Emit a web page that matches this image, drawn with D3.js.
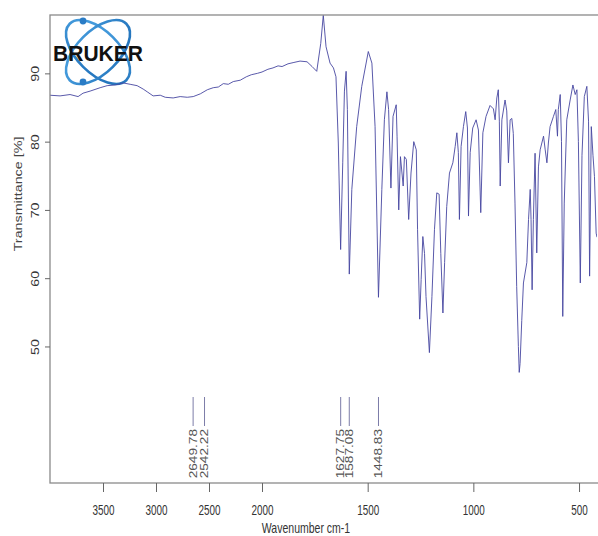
<!DOCTYPE html>
<html>
<head>
<meta charset="utf-8">
<script src="https://cdn.jsdelivr.net/npm/d3@7"></script>
<style>
  body { margin: 0; background: #fff; }
  text { font-family: "Liberation Sans", Arial, sans-serif; }
</style>
</head>
<body>
<div id="chart"></div>
<script>
// spectrum: wavenumber (cm-1) and transmittance (%)
var wavenumbers = [
  4000, 3905, 3811, 3735, 3688, 3622, 3527, 3461, 3386, 3310, 3244, 3178, 3121, 3083, 3027,
  2960, 2913, 2838, 2772, 2705, 2649, 2582, 2516, 2460, 2412, 2365, 2318, 2271, 2205, 2148,
  2101, 2044, 2000, 1972, 1948, 1924, 1905, 1877, 1849, 1820, 1787, 1763, 1741, 1722, 1710,
  1697, 1678, 1662, 1650, 1639, 1628, 1618, 1610, 1602, 1596, 1587, 1575, 1552, 1528, 1497,
  1480, 1465, 1449, 1433, 1421, 1409, 1401, 1390, 1380, 1365, 1361, 1353, 1345, 1332, 1326,
  1317, 1306, 1295, 1282, 1270, 1264, 1254, 1247, 1239, 1231, 1224, 1208, 1196, 1184, 1173,
  1162, 1154, 1144, 1136, 1126, 1113, 1097, 1086, 1078, 1071, 1066, 1058, 1047, 1036, 1028,
  1023, 1015, 1003, 987, 976, 965, 955, 940, 921, 905, 897, 889, 882, 877, 873,
  865, 850, 842, 834, 826, 818, 811, 803, 795, 787, 783, 779, 771, 763, 747,
  739, 731, 727, 722, 716, 708, 700, 692, 684, 668, 660, 652, 645, 637, 621,
  610, 602, 598, 589, 583, 577, 570, 558, 542, 529, 518, 510, 503, 494, 486,
  475, 463, 455, 450, 442, 434, 427, 419, 415
];
var transmittance = [
  86.8, 86.7, 86.9, 86.6, 87.1, 87.4, 87.9, 88.2, 88.3, 88.6, 88.4, 88.2, 87.7, 87.3, 86.7,
  86.8, 86.5, 86.4, 86.6, 86.5, 86.6, 87.0, 87.6, 87.9, 88.0, 88.5, 88.4, 88.8, 89.0, 89.5,
  89.8, 90.0, 90.2, 90.6, 90.8, 91.1, 91.0, 91.4, 91.6, 91.8, 91.7, 91.0, 90.3, 94.4, 98.5,
  93.9, 91.5, 90.8, 89.5, 79.8, 64.2, 76.9, 87.4, 90.3, 84.7, 60.6, 73.0, 82.2, 88.1, 93.2,
  91.5, 82.2, 57.2, 73.0, 83.2, 87.3, 84.7, 73.2, 83.7, 85.4, 80.8, 70.0, 77.8, 73.5, 77.8,
  77.4, 68.6, 75.4, 80.0, 78.8, 67.1, 54.0, 59.8, 66.1, 63.6, 57.3, 49.1, 57.3, 67.1, 72.5,
  72.3, 63.6, 54.9, 62.3, 70.5, 75.4, 76.9, 79.3, 81.3, 78.4, 68.6, 79.3, 82.2, 84.4, 82.0,
  69.1, 78.4, 82.0, 83.2, 81.7, 69.6, 81.3, 83.7, 85.3, 84.8, 83.2, 86.4, 87.6, 83.0, 73.5,
  83.2, 86.1, 84.5, 76.9, 83.2, 83.4, 81.2, 71.0, 58.8, 50.0, 46.2, 47.5, 53.8, 59.3, 62.3,
  68.6, 73.0, 68.6, 58.3, 68.6, 78.3, 63.7, 76.3, 78.8, 80.8, 78.8, 76.9, 79.8, 82.2, 83.7,
  84.7, 80.8, 84.7, 86.9, 80.0, 54.4, 71.0, 83.2, 86.1, 88.3, 86.9, 87.6, 80.0, 59.3, 78.0,
  86.6, 88.1, 83.0, 60.3, 82.2, 78.0, 74.9, 66.6, 66.0
];

var peakPositions = [2649.78, 2542.22, 1627.75, 1587.08, 1448.83];
var peakLabels = ["2649.78", "2542.22", "1627.75", "1587.08", "1448.83"];

var xTicks = [3500, 3000, 2500, 2000, 1500, 1000, 500];
var yTicks = [50, 60, 70, 80, 90];

var width = 598, height = 536;
var box = {left: 50, top: 15, right: 597, bottom: 483};

// the picture is stretched vertically, so horizontal text is squeezed
// and rotated text is drawn longer than normal
function squeeze(sel, f){
    sel.each(function(){
        var len = this.getComputedTextLength();
        d3.select(this).attr("textLength", len * f).attr("lengthAdjust", "spacingAndGlyphs");
    });
}

var svg = d3.select("#chart").append("svg")
    .attr("width", width)
    .attr("height", height);

// OPUS style: region above 2000 is compressed by half
var x = d3.scaleLinear()
    .domain([4000, 2000, 415])
    .range([box.left, 262, box.right]);
var y = d3.scaleLinear()
    .domain([30, 98.55])
    .range([box.bottom, box.top]);

var defs = svg.append("defs");
defs.append("clipPath").attr("id", "plotclip")
  .append("rect")
    .attr("x", box.left).attr("y", box.top - 1)
    .attr("width", box.right - box.left).attr("height", box.bottom - box.top + 1);

// logo
var logo = svg.append("g").attr("transform", "translate(98,52)");
var grad = defs.append("linearGradient")
    .attr("id", "orbit").attr("x1", "0").attr("y1", "0").attr("x2", "1").attr("y2", "1");
grad.append("stop").attr("offset", "0%").attr("stop-color", "#4aa2e2");
grad.append("stop").attr("offset", "100%").attr("stop-color", "#1f6fb8");
[45, -45].forEach(function(a){
    logo.append("ellipse")
        .attr("rx", 40).attr("ry", 21)
        .attr("transform", "rotate(" + a + ")")
        .attr("fill", "none")
        .attr("stroke", "url(#orbit)")
        .attr("stroke-width", 2.6);
});
[[-15, -31], [-15, 30]].forEach(function(p){
    logo.append("circle").attr("cx", p[0]).attr("cy", p[1]).attr("r", 3.4).attr("fill", "#2a7cc6");
});
logo.append("text")
    .attr("x", -45).attr("y", 9)
    .attr("textLength", 90)
    .attr("lengthAdjust", "spacingAndGlyphs")
    .style("font-size", "22px")
    .style("font-weight", "bold")
    .style("fill", "#111")
    .text("BRUKER");

// spectrum
var line = d3.line()
    .x(function(d, i){ return x(wavenumbers[i]); })
    .y(function(d){ return y(d); });

svg.append("path")
    .datum(transmittance)
    .attr("clip-path", "url(#plotclip)")
    .attr("d", line)
    .attr("fill", "none")
    .attr("stroke", "#4646a0")
    .attr("stroke-width", 0.9);

// frame
svg.append("rect")
    .attr("x", box.left).attr("y", box.top)
    .attr("width", box.right - box.left + 5).attr("height", box.bottom - box.top)
    .attr("fill", "none")
    .attr("stroke", "#8a8a8a")
    .attr("stroke-width", 1.3);

// x axis
var xAxis = svg.append("g")
    .attr("transform", "translate(0," + box.bottom + ")")
    .call(d3.axisBottom(x).tickValues(xTicks).tickSize(9).tickPadding(8).tickFormat(d3.format("d")));
xAxis.select(".domain").remove();
xAxis.selectAll("line").attr("stroke", "#666");
xAxis.selectAll("text")
    .attr("dy", null).attr("y", 32)
    .style("font-size", "15px").style("fill", "#333")
    .style("font-family", "Liberation Sans, Arial, sans-serif")
    .call(squeeze, 0.66);

// y axis
var yAxis = svg.append("g")
    .attr("transform", "translate(" + box.left + ",0)")
    .call(d3.axisLeft(y).tickValues(yTicks).tickSize(5).tickFormat(d3.format("d")));
yAxis.select(".domain").remove();
yAxis.selectAll("line").attr("stroke", "#666");
yAxis.selectAll("text")
    .attr("x", null).attr("dy", "0")
    .attr("text-anchor", "middle")
    .attr("transform", "translate(-11,0) rotate(-90)")
    .style("font-size", "11px").style("fill", "#333")
    .style("font-family", "Liberation Sans, Arial, sans-serif")
    .call(squeeze, 1.3);

svg.append("text")
    .attr("transform", "translate(22,194) rotate(-90)")
    .attr("text-anchor", "middle")
    .style("font-size", "11px")
    .style("fill", "#444")
    .text("Transmittance [%]")
    .call(squeeze, 1.3);

svg.append("text")
    .attr("x", 306)
    .attr("y", 533)
    .attr("text-anchor", "middle")
    .style("font-size", "15px")
    .style("fill", "#333")
    .text("Wavenumber cm-1")
    .call(squeeze, 0.7);

// peak picks
var peaks = svg.append("g");
peaks.selectAll("line")
    .data(peakPositions)
    .enter().append("line")
    .attr("x1", function(d){ return x(d); })
    .attr("x2", function(d){ return x(d); })
    .attr("y1", 397)
    .attr("y2", 426)
    .attr("stroke", "#7c7ca8")
    .attr("stroke-width", 1);
peaks.selectAll("text")
    .data(peakPositions)
    .enter().append("text")
    .attr("transform", function(d){ return "translate(" + x(d) + ",429) rotate(-90)"; })
    .attr("text-anchor", "end")
    .attr("dy", "0.35em")
    .style("font-size", "10.5px")
    .style("fill", "#555")
    .text(function(d, i){ return peakLabels[i]; })
    .call(squeeze, 1.3);
</script>
</body>
</html>
